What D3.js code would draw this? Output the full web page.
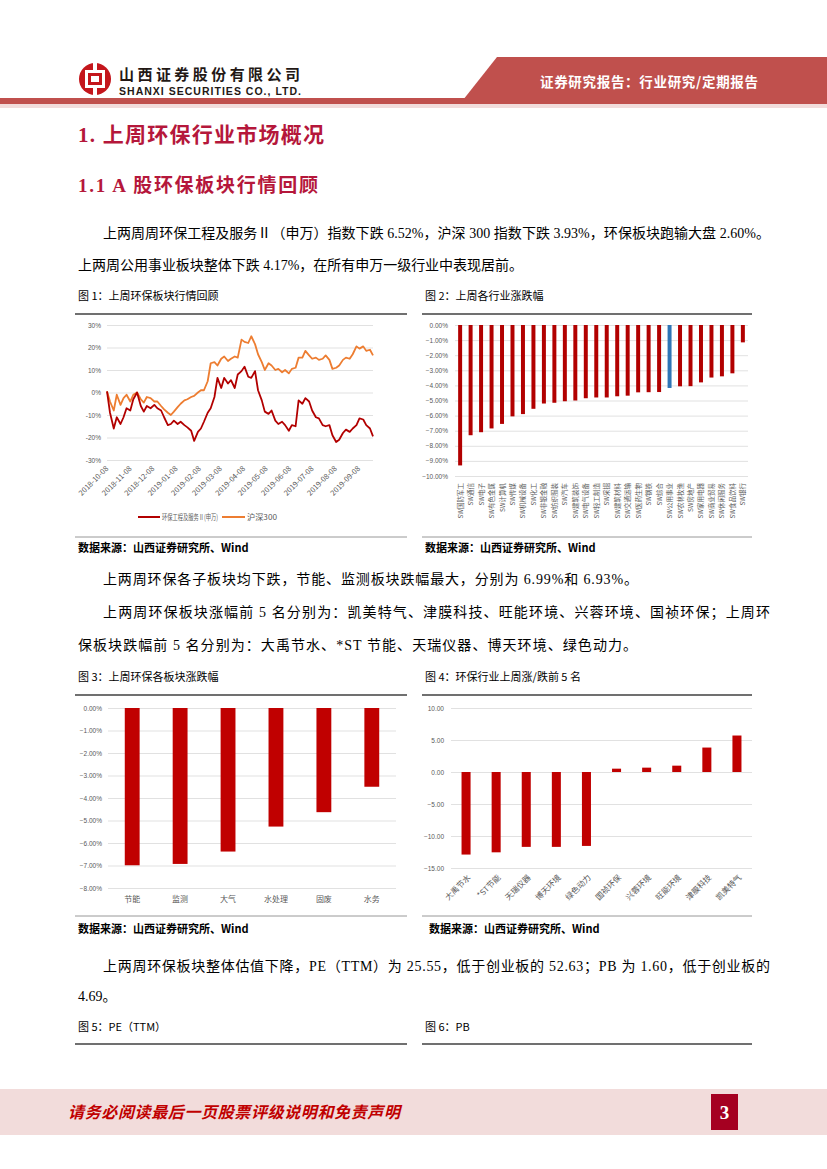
<!DOCTYPE html>
<html>
<head>
<meta charset="utf-8">
<script src="https://d3js.org/d3.v7.min.js"></script>
<style>
  body { margin: 0; background: #fff; }
  svg { display: block; }
  .cn { font-family: "Liberation Serif", "Noto Sans CJK SC", serif; }
  .sans { font-family: "Noto Sans CJK SC", "Liberation Sans", sans-serif; }
  .tick text { font-family: "Liberation Sans", "Noto Sans CJK SC", sans-serif; fill: #595959; }
</style>
</head>
<body>
<svg id="page" width="827" height="1169"></svg>
<script>
// ---------- data ----------
// figure 1: 2018-10-08 .. 2019-09-27, % change
const lineDates = ["2018-10-08","2018-10-12","2018-10-17","2018-10-21","2018-10-26","2018-10-30","2018-11-03","2018-11-08",
  "2018-11-12","2018-11-17","2018-11-22","2018-11-26","2018-11-30","2018-12-05","2018-12-10","2018-12-14","2018-12-19",
  "2018-12-23","2018-12-28","2019-01-01","2019-01-05","2019-01-10","2019-01-14","2019-01-19","2019-01-23","2019-01-28",
  "2019-02-01","2019-02-06","2019-02-10","2019-02-14","2019-02-19","2019-02-23","2019-02-28","2019-03-04","2019-03-09",
  "2019-03-13","2019-03-18","2019-03-22","2019-03-27","2019-03-31","2019-04-05","2019-04-09","2019-04-14","2019-04-18",
  "2019-04-23","2019-04-27","2019-05-02","2019-05-06","2019-05-11","2019-05-15","2019-05-20","2019-05-24","2019-05-29",
  "2019-06-02","2019-06-07","2019-06-11","2019-06-16","2019-06-20","2019-06-25","2019-06-29","2019-07-04","2019-07-08",
  "2019-07-13","2019-07-17","2019-07-22","2019-07-26","2019-07-31","2019-08-04","2019-08-09","2019-08-13","2019-08-18",
  "2019-08-22","2019-08-27","2019-08-31","2019-09-05","2019-09-09","2019-09-14","2019-09-18","2019-09-23","2019-09-27"];
const envIndex = [0.5,-9,-16,-11,-14,-11,-7,-8,-3,0,-6,-8.5,-6,-7,-5.5,-7,-8,-11,-14.5,-14,-12.5,-14,-13,-14.5,-15.5,-17,
  -21.5,-17.5,-16,-13,-9,-7,-2,6.5,2,6.5,4,5.5,2,8,9.5,11.5,7,6.5,9.5,1,-3.5,-8.5,-9.5,-8,-12.5,-14,-13,-14.5,-17,-14.5,
  -15,-3.5,-5,-2.5,-4,-8,-11,-11.5,-14.5,-15,-14.5,-19,-22,-21,-18,-16.5,-17.5,-16,-14.5,-11.5,-12,-14.5,-16,-19.5];
const hs300 = [0.5,-4,-8,-1,-5.5,-2.5,-1,-4,-1,0,-3,-4.5,-2,-2.5,-4,-4,-6,-7.5,-9,-10,-8.5,-6.5,-5,-3.5,-3,-2,-1.5,0,1,1,
  5,13,13.5,12,15,16,14,15,16,15.5,23.5,22.5,22,25,21.5,17,13.5,10,13,12,10,10.5,9,10,8.5,10.5,11,15.5,15.5,18.5,16.5,15,
  15.5,14.5,15,16.5,14.5,10.5,11,12,14.5,15.5,15,17,20.5,19.5,20.5,18.5,19,16.5];
const lineTickDates = ["2018-10-08","2018-11-08","2018-12-08","2019-01-08","2019-02-08","2019-03-08","2019-04-08",
  "2019-05-08","2019-06-08","2019-07-08","2019-08-08","2019-09-08"];
const lineNames = ["环保工程及服务Ⅱ(申万)", "沪深300"];

// figure 2: SW level-1 industries
const industries = ["SW国防军工","SW通信","SW电子","SW有色金属","SW计算机","SW传媒","SW机械设备","SW化工","SW非银金融",
  "SW纺织服装","SW汽车","SW建筑装饰","SW电气设备","SW轻工制造","SW采掘","SW建筑材料","SW交通运输","SW医药生物","SW钢铁",
  "SW综合","SW公用事业","SW农林牧渔","SW房地产","SW家用电器","SW商业贸易","SW休闲服务","SW食品饮料","SW银行"];
const industryChg = [-9.30,-7.30,-7.10,-6.85,-6.55,-6.05,-5.90,-5.55,-5.20,-5.15,-5.05,-5.00,-4.85,-4.80,-4.80,-4.72,
  -4.68,-4.46,-4.45,-4.44,-4.17,-4.06,-4.05,-3.80,-3.48,-3.40,-3.20,-1.15];
const highlight = "SW公用事业";

// figure 3: sub-sectors
const sectors = ["节能","监测","大气","水处理","固废","水务"];
const sectorChg = [-6.99,-6.93,-6.38,-5.27,-4.63,-3.50];

// figure 4: top / bottom 5
const stocks = ["大禹节水","*ST节能","天瑞仪器","博天环境","绿色动力","国祯环保","兴蓉环境","旺能环境","津膜科技","凯美特气"];
const stockChg = [-12.90,-12.55,-11.70,-11.70,-11.55,0.52,0.68,0.99,3.82,5.70];

// ---------- page ----------
const RED = "#c00000", HEAD = "#b5173b", BAND = "#c0504d";
const svg = d3.select("#page");
const parse = d3.timeParse("%Y-%m-%d");

// header
svg.append("polygon").attr("points", "497,57 827,57 827,100 463,100").attr("fill", BAND);
svg.append("rect").attr("x", 0).attr("y", 98).attr("width", 827).attr("height", 6).attr("fill", BAND);
svg.append("rect").attr("x", 0).attr("y", 104).attr("width", 827).attr("height", 4).attr("fill", "#f2dcdb");
svg.append("text").attr("class", "sans").attr("x", 540).attr("y", 87).attr("font-size", 13.5).attr("font-weight", "bold")
  .attr("fill", "#fff").attr("textLength", 218).text("证券研究报告：行业研究/定期报告");

// logo
const logo = svg.append("g").attr("transform", "translate(95,79)");
logo.append("circle").attr("r", 16).attr("fill", "#c4161c");
logo.append("rect").attr("x", -10).attr("y", -9).attr("width", 20).attr("height", 18).attr("fill", "#fff");
logo.append("rect").attr("x", -7).attr("y", -6).attr("width", 14).attr("height", 12).attr("fill", "#c4161c");
logo.append("rect").attr("x", -4).attr("y", -3).attr("width", 8).attr("height", 6).attr("fill", "#fff");
logo.append("rect").attr("x", -2).attr("y", -17).attr("width", 4).attr("height", 9).attr("fill", "#fff");
logo.append("rect").attr("x", -2).attr("y", 8).attr("width", 4).attr("height", 9).attr("fill", "#fff");
svg.append("text").attr("class", "sans").attr("x", 119).attr("y", 80).attr("font-size", 15).attr("font-weight", "bold")
  .attr("fill", "#231815").attr("textLength", 181).text("山西证券股份有限公司");
svg.append("text").attr("x", 119).attr("y", 95).attr("font-family", "Liberation Sans").attr("font-size", 10.5)
  .attr("font-weight", "bold").attr("fill", "#231815").attr("textLength", 182).text("SHANXI SECURITIES CO., LTD.");

// headings + paragraphs
function txt(x, y, s, size, opts = {}) {
  const t = svg.append("text").attr("class", opts.cls || "cn").attr("x", x).attr("y", y)
    .attr("font-size", size).attr("fill", opts.fill || "#000").text(s);
  if (opts.bold) t.attr("font-weight", "bold");
  if (opts.len) t.attr("textLength", opts.len).attr("lengthAdjust", "spacing");
  return t;
}
txt(78, 142, "1.  上周环保行业市场概况", 21, { bold: true, fill: HEAD, len: 246 });
txt(78, 192, "1.1 A 股环保板块行情回顾", 19, { bold: true, fill: HEAD, len: 240 });
txt(103, 238, "上两周周环保工程及服务Ⅱ（申万）指数下跌 6.52%，沪深 300 指数下跌 3.93%，环保板块跑输大盘 2.60%。", 14, { len: 667 });
txt(78, 270, "上两周公用事业板块整体下跌 4.17%，在所有申万一级行业中表现居前。", 14, { len: 445 });
txt(103, 584, "上两周环保各子板块均下跌，节能、监测板块跌幅最大，分别为 6.99%和 6.93%。", 14, { len: 535 });
txt(103, 617, "上两周环保板块涨幅前  5  名分别为：凯美特气、津膜科技、旺能环境、兴蓉环境、国祯环保；上周环", 14, { len: 667 });
txt(78, 650, "保板块跌幅前 5 名分别为：大禹节水、*ST 节能、天瑞仪器、博天环境、绿色动力。", 14, { len: 559 });
txt(103, 971, "上两周环保板块整体估值下降，PE（TTM）为 25.55，低于创业板的 52.63；PB 为 1.60，低于创业板的", 14, { len: 667 });
txt(78, 1001, "4.69。", 14);

// figure titles, rules and sources
const figs = [
  { x: 78, y: 300, t: "图 1：上周环保板块行情回顾", l: 75, r: 407, ry: 314 },
  { x: 425, y: 300, t: "图 2：上周各行业涨跌幅", l: 422, r: 752, ry: 314 },
  { x: 78, y: 681, t: "图 3：上周环保各板块涨跌幅", l: 75, r: 407, ry: 695 },
  { x: 425, y: 681, t: "图 4：环保行业上周涨/跌前 5 名", l: 422, r: 752, ry: 695 },
  { x: 78, y: 1031, t: "图 5：PE（TTM）", l: 75, r: 407, ry: 1044 },
  { x: 425, y: 1031, t: "图 6：PB", l: 422, r: 752, ry: 1044 }
];
figs.forEach(f => {
  txt(f.x, f.y, f.t, 11, { cls: "sans" });
  svg.append("line").attr("x1", f.l).attr("x2", f.r).attr("y1", f.ry).attr("y2", f.ry)
    .attr("stroke", "#404040").attr("stroke-width", 1.5);
});
[[75, 407, 537, 78, 552], [422, 752, 537, 425, 552], [75, 407, 916, 78, 933], [422, 752, 916, 429, 933]].forEach(s => {
  svg.append("line").attr("x1", s[0]).attr("x2", s[1]).attr("y1", s[2]).attr("y2", s[2])
    .attr("stroke", "#7f7f7f").attr("stroke-width", 0.8);
  txt(s[3], s[4], "数据来源：山西证券研究所、Wind", 11, { cls: "sans", bold: true });
});

// gridline axis helper
function gridAxis(g, y, ticks, x0, x1, fmt, lx) {
  const ax = g.append("g").attr("transform", `translate(${x0},0)`)
    .call(d3.axisLeft(y).tickValues(ticks).tickSize(-(x1 - x0)).tickPadding(x0 - lx).tickFormat(fmt));
  ax.select(".domain").remove();
  ax.selectAll(".tick line").attr("stroke", "#d9d9d9").attr("stroke-width", 0.8);
  ax.selectAll(".tick text").attr("font-size", 6.5);
  return ax;
}

// ---------- figure 1: lines ----------
{
  const g = svg.append("g");
  const x = d3.scaleTime().domain([parse("2018-10-08"), parse("2019-09-27")]).range([107, 373]);
  const y = d3.scaleLinear().domain([-30, 30]).range([460, 325]);
  gridAxis(g, y, d3.range(-30, 31, 10), 107, 373, d => d + "%", 101);
  const series = [envIndex, hs300];
  const colors = ["#b20000", "#ed7d31"];
  const line = d3.line().x((d, i) => x(parse(lineDates[i]))).y(d => y(d));
  [1, 0].forEach(k => {
    g.append("path").datum(series[k]).attr("d", line).attr("fill", "none")
      .attr("stroke", colors[k]).attr("stroke-width", 1.8).attr("stroke-linejoin", "round");
  });
  g.selectAll(".dl").data(lineTickDates).join("text")
    .attr("class", "sans").attr("font-size", 7.5).attr("fill", "#595959").attr("text-anchor", "end")
    .attr("transform", d => `translate(${x(parse(d)) + 2},${469}) rotate(-45)`).text(d => d);
  const lg = [[138, 160, 162, 56], [222, 245, 247, 30]];
  lineNames.forEach((n, k) => {
    g.append("line").attr("x1", lg[k][0]).attr("x2", lg[k][1]).attr("y1", 517).attr("y2", 517)
      .attr("stroke", colors[k]).attr("stroke-width", 2);
    g.append("text").attr("class", "sans").attr("x", lg[k][2]).attr("y", 520).attr("font-size", 7.5)
      .attr("fill", "#595959").attr("textLength", lg[k][3]).attr("lengthAdjust", "spacingAndGlyphs").text(n);
  });
}

// ---------- figure 2: industries ----------
{
  const g = svg.append("g");
  const x = d3.scaleBand().domain(industries).range([455, 748]).paddingInner(0.62).paddingOuter(0.3);
  const y = d3.scaleLinear().domain([-10, 0]).range([476, 325]);
  gridAxis(g, y, d3.range(-10, 0.5, 1), 455, 748, d => d3.format(".2f")(d) + "%", 448);
  g.selectAll(".b").data(industries).join("rect")
    .attr("x", d => x(d)).attr("width", x.bandwidth())
    .attr("y", y(0)).attr("height", (d, i) => y(industryChg[i]) - y(0))
    .attr("fill", d => d === highlight ? "#2e75b6" : "#b20000");
  g.selectAll(".l").data(industries).join("text")
    .attr("class", "sans").attr("font-size", 6.5).attr("fill", "#595959").attr("text-anchor", "end")
    .attr("transform", d => `translate(${x(d) + x.bandwidth() / 2 + 2.5},${483}) rotate(-90)`).text(d => d);
}

// ---------- figure 3: sub-sectors ----------
{
  const g = svg.append("g");
  const x = d3.scaleBand().domain(sectors).range([108, 396]).paddingInner(0.69).paddingOuter(0.35);
  const y = d3.scaleLinear().domain([-8, 0]).range([888, 708]);
  gridAxis(g, y, d3.range(-8, 0.5, 1), 108, 396, d => d3.format(".2f")(d) + "%", 102);
  g.selectAll(".b").data(sectors).join("rect")
    .attr("x", d => x(d)).attr("width", x.bandwidth())
    .attr("y", y(0)).attr("height", (d, i) => y(sectorChg[i]) - y(0)).attr("fill", RED);
  g.selectAll(".l").data(sectors).join("text")
    .attr("class", "sans").attr("font-size", 8).attr("fill", "#595959").attr("text-anchor", "middle")
    .attr("x", d => x(d) + x.bandwidth() / 2).attr("y", 902).text(d => d);
}

// ---------- figure 4: top / bottom 5 ----------
{
  const g = svg.append("g");
  const x = d3.scaleBand().domain(stocks).range([451, 752]).paddingInner(0.7).paddingOuter(0.35);
  const y = d3.scaleLinear().domain([-15, 10]).range([868, 708]);
  gridAxis(g, y, d3.range(-15, 10.5, 5), 451, 752, d => d3.format(".2f")(d), 444);
  g.selectAll(".b").data(stocks).join("rect")
    .attr("x", d => x(d)).attr("width", x.bandwidth())
    .attr("y", (d, i) => y(Math.max(0, stockChg[i])))
    .attr("height", (d, i) => Math.abs(y(stockChg[i]) - y(0))).attr("fill", RED);
  g.selectAll(".l").data(stocks).join("text")
    .attr("class", "sans").attr("font-size", 8).attr("fill", "#595959").attr("text-anchor", "end")
    .attr("transform", d => `translate(${x(d) + x.bandwidth() / 2 + 5},${878}) rotate(-45)`).text(d => d);
}

// footer
svg.append("rect").attr("x", 0).attr("y", 1089).attr("width", 827).attr("height", 46).attr("fill", "#f2dcdb");
svg.append("text").attr("class", "sans").attr("x", 68).attr("y", 1118).attr("font-size", 16).attr("font-weight", "bold")
  .attr("font-style", "italic").attr("fill", RED).attr("textLength", 332).text("请务必阅读最后一页股票评级说明和免责声明");
svg.append("rect").attr("x", 711).attr("y", 1094).attr("width", 27).attr("height", 36).attr("fill", "#a50021");
svg.append("text").attr("x", 724.5).attr("y", 1119).attr("text-anchor", "middle").attr("font-family", "Liberation Serif")
  .attr("font-size", 19).attr("font-weight", "bold").attr("fill", "#fff").text("3");
</script>
</body>
</html>
